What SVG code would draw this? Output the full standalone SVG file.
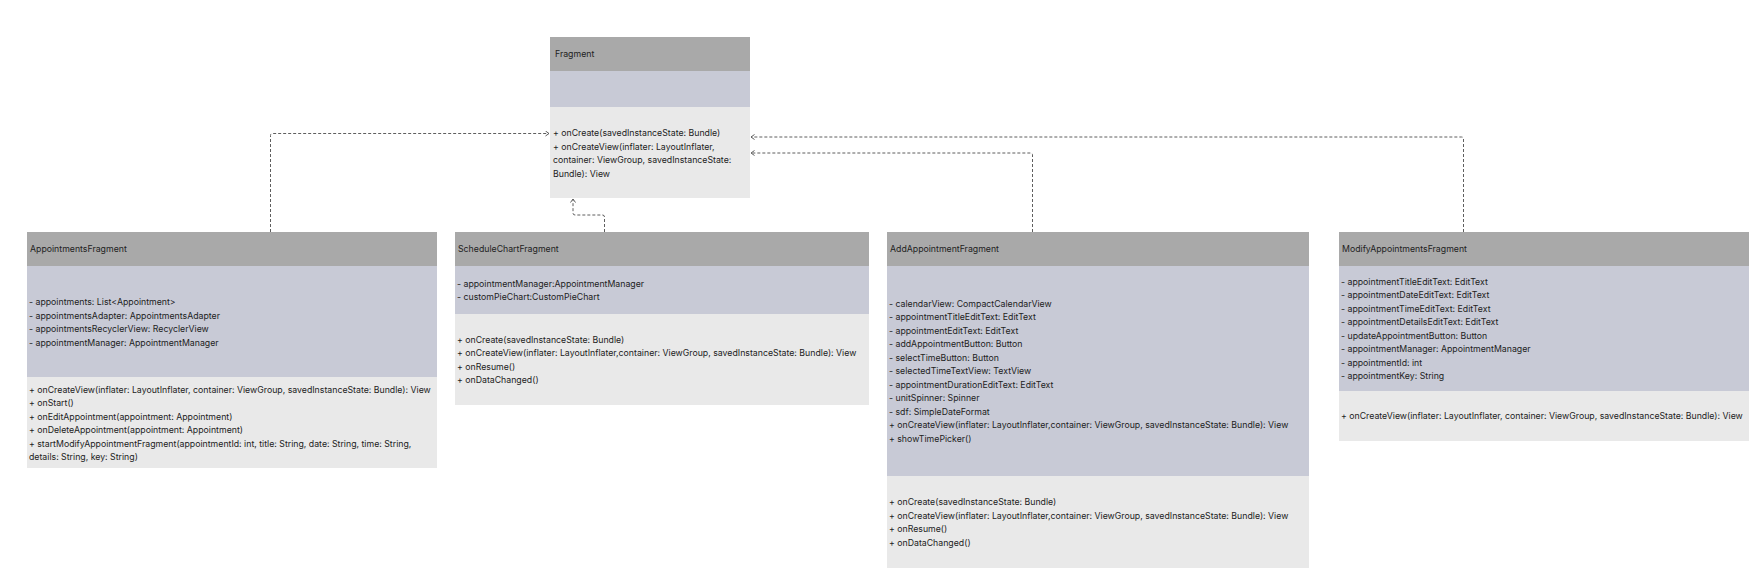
<svg xmlns="http://www.w3.org/2000/svg" width="1760" height="586" viewBox="0 0 1760 586">
<style>
.hd{fill:#a9a9a9}
.at{fill:#c8cad6}
.me{fill:#e9e9e9}
text{font-family:Inter,"Noto Sans","Liberation Sans",sans-serif;font-size:8.75px;fill:#222}
.conn{fill:none;stroke:#5e5e5e;stroke-width:1;stroke-dasharray:3 2}
</style>
<defs>
<marker id="ah" markerUnits="userSpaceOnUse" markerWidth="8" markerHeight="8" refX="4" refY="3" orient="auto">
<path d="M0.5,0.5 L4,3 L0.5,5.5" fill="none" stroke="#5e5e5e" stroke-width="1"/>
</marker>
</defs>
<rect width="1760" height="586" fill="#ffffff"/>

<g id="connectors">
<path class="conn" d="M270.5,232 V135.5 Q270.5,133.5 272.5,133.5 H549" marker-end="url(#ah)"/>
<path class="conn" d="M604.5,232 V217 Q604.5,215 602.5,215 H575 Q573,215 573,213 V199" marker-end="url(#ah)"/>
<path class="conn" d="M1032.5,232 V155 Q1032.5,153 1030.5,153 H751" marker-end="url(#ah)"/>
<path class="conn" d="M1463.5,232 V139 Q1463.5,137 1461.5,137 H751" marker-end="url(#ah)"/>
</g>

<g id="Fragment">
<rect class="hd" x="550" y="37" width="200" height="34"/>
<rect class="at" x="550" y="71" width="200" height="36"/>
<rect class="me" x="550" y="107" width="200" height="91"/>
<text x="555" y="57.2">Fragment</text>
<text x="553" y="136">+ onCreate(savedInstanceState: Bundle)</text>
<text x="553" y="149.5">+ onCreateView(inflater: LayoutInflater,</text>
<text x="553" y="163">container: ViewGroup, savedInstanceState:</text>
<text x="553" y="176.5">Bundle): View</text>
</g>

<g id="AppointmentsFragment">
<rect class="hd" x="27" y="232" width="410" height="34"/>
<rect class="at" x="27" y="266" width="410" height="111"/>
<rect class="me" x="27" y="377" width="410" height="91"/>
<text x="30" y="252.2">AppointmentsFragment</text>
<text x="29" y="305">- appointments: List&lt;Appointment&gt;</text>
<text x="29" y="318.5">- appointmentsAdapter: AppointmentsAdapter</text>
<text x="29" y="332">- appointmentsRecyclerView: RecyclerView</text>
<text x="29" y="345.5">- appointmentManager: AppointmentManager</text>
<text x="29" y="392.5">+ onCreateView(inflater: LayoutInflater, container: ViewGroup, savedInstanceState: Bundle): View</text>
<text x="29" y="406">+ onStart()</text>
<text x="29" y="419.5">+ onEditAppointment(appointment: Appointment)</text>
<text x="29" y="433">+ onDeleteAppointment(appointment: Appointment)</text>
<text x="29" y="446.5">+ startModifyAppointmentFragment(appointmentId: int, title: String, date: String, time: String,</text>
<text x="29" y="460">details: String, key: String)</text>
</g>

<g id="ScheduleChartFragment">
<rect class="hd" x="455" y="232" width="414" height="34"/>
<rect class="at" x="455" y="266" width="414" height="48"/>
<rect class="me" x="455" y="314" width="414" height="91"/>
<text x="458" y="252.2">ScheduleChartFragment</text>
<text x="457" y="286.5">- appointmentManager:AppointmentManager</text>
<text x="457" y="300">- customPieChart:CustomPieChart</text>
<text x="457" y="342.5">+ onCreate(savedInstanceState: Bundle)</text>
<text x="457" y="356">+ onCreateView(inflater: LayoutInflater,container: ViewGroup, savedInstanceState: Bundle): View</text>
<text x="457" y="369.5">+ onResume()</text>
<text x="457" y="383">+ onDataChanged()</text>
</g>

<g id="AddAppointmentFragment">
<rect class="hd" x="887" y="232" width="422" height="34"/>
<rect class="at" x="887" y="266" width="422" height="210"/>
<rect class="me" x="887" y="476" width="422" height="92"/>
<text x="890" y="252.2">AddAppointmentFragment</text>
<text x="889" y="306.7">- calendarView: CompactCalendarView</text>
<text x="889" y="320.2">- appointmentTitleEditText: EditText</text>
<text x="889" y="333.7">- appointmentEditText: EditText</text>
<text x="889" y="347.2">- addAppointmentButton: Button</text>
<text x="889" y="360.7">- selectTimeButton: Button</text>
<text x="889" y="374.2">- selectedTimeTextView: TextView</text>
<text x="889" y="387.7">- appointmentDurationEditText: EditText</text>
<text x="889" y="401.2">- unitSpinner: Spinner</text>
<text x="889" y="414.7">- sdf: SimpleDateFormat</text>
<text x="889" y="428.2">+ onCreateView(inflater: LayoutInflater,container: ViewGroup, savedInstanceState: Bundle): View</text>
<text x="889" y="441.7">+ showTimePicker()</text>
<text x="889" y="505">+ onCreate(savedInstanceState: Bundle)</text>
<text x="889" y="518.5">+ onCreateView(inflater: LayoutInflater,container: ViewGroup, savedInstanceState: Bundle): View</text>
<text x="889" y="532">+ onResume()</text>
<text x="889" y="545.5">+ onDataChanged()</text>
</g>

<g id="ModifyAppointmentsFragment">
<rect class="hd" x="1339" y="232" width="410" height="34"/>
<rect class="at" x="1339" y="266" width="410" height="125"/>
<rect class="me" x="1339" y="391" width="410" height="50"/>
<text x="1342" y="252.2">ModifyAppointmentsFragment</text>
<text x="1341" y="284.5">- appointmentTitleEditText: EditText</text>
<text x="1341" y="298">- appointmentDateEditText: EditText</text>
<text x="1341" y="311.5">- appointmentTimeEditText: EditText</text>
<text x="1341" y="325">- appointmentDetailsEditText: EditText</text>
<text x="1341" y="338.5">- updateAppointmentButton: Button</text>
<text x="1341" y="352">- appointmentManager: AppointmentManager</text>
<text x="1341" y="365.5">- appointmentId: int</text>
<text x="1341" y="379">- appointmentKey: String</text>
<text x="1341" y="419">+ onCreateView(inflater: LayoutInflater, container: ViewGroup, savedInstanceState: Bundle): View</text>
</g>
</svg>
